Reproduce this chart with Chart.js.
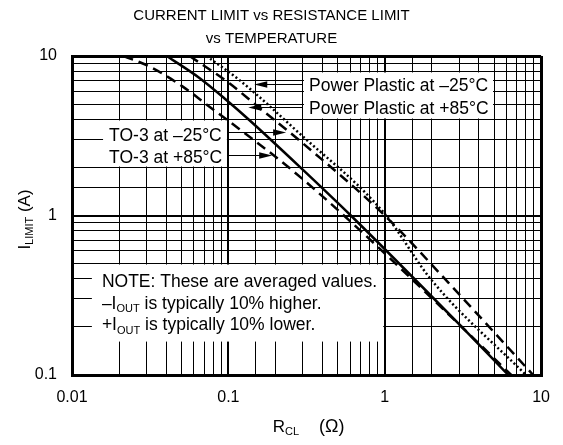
<!DOCTYPE html>
<html>
<head>
<meta charset="utf-8">
<script src="https://cdn.jsdelivr.net/npm/chart.js@4.4.0/dist/chart.umd.min.js"></script>
<style>
  html, body { margin: 0; padding: 0; background: #fff; }
  canvas { display: block; }
</style>
</head>
<body>
<canvas id="chartLimit" width="563" height="445"></canvas>
<script>
const FONT = '"Liberation Sans", Arial, Helvetica, sans-serif';

// values: R_CL in ohms, I_LIMIT in amps
const to3Cold_R = [0.0403, 0.0653, 0.0971, 0.136, 0.283, 0.607, 3.11, 6.17];
const to3Cold_I = [10, 7.28, 5.30, 3.97, 2.04, 1.0, 0.20, 0.10];

const to3Hot_R = [0.0214, 0.0314, 0.0511, 0.0757, 0.0985, 0.245, 0.548, 3.11, 6.44];
const to3Hot_I = [10, 8.57, 6.43, 4.81, 3.97, 1.99, 1.0, 0.20, 0.10];

const ppHot_R = [0.0565, 0.1015, 0.150, 0.283, 1.0, 2.56, 8.9];
const ppHot_I = [10, 6.74, 4.93, 2.97, 1.0, 0.378, 0.1];

const ppCold_R = [0.0724, 0.1175, 0.283, 0.987, 1.99, 8.0];
const ppCold_I = [10, 7.07, 3.29, 1.04, 0.394, 0.1];

const xLabels = [0.01, 0.1, 1, 10];
const yLabels = [0.1, 1, 10];
const titleLines = ['CURRENT LIMIT vs RESISTANCE LIMIT', 'vs TEMPERATURE'];

const toPoints = (xs, ys) => xs.map((x, i) => ({ x: x, y: ys[i] }));
const isDecade = v => Math.abs(Math.log10(v) - Math.round(Math.log10(v))) < 1e-9;

function gridWidth(v, lo, hi) {
  if (Math.abs(v - lo) < 1e-12 || Math.abs(v - hi) < 1e-9) return 3;
  return isDecade(v) ? 2 : 1;
}

// white label boxes (data coords), they hide the grid under them
const boxes = [
  { x0: 0.3, x1: 5, y0: 4, y1: 8, inset: [1, 1, 1, 1],
    left: 6, lines: [[['Power Plastic at \u201325\u00B0C']], [['Power Plastic at +85\u00B0C']]], top: 20, step: 22.5 },
  { x0: 0.0158, x1: 0.1, y0: 2, y1: 4, inset: [0, 1.5, 1, 1],
    left: 6, lines: [[['TO-3 at \u201325\u00B0C']], [['TO-3 at +85\u00B0C']]], top: 22, step: 21.7 },
  { x0: 0.0134, x1: 1, y0: 0.162, y1: 0.5, inset: [0, 1.5, 1, 0],
    left: 10, top: 23.5, step: 21.5,
    lines: [
      [['NOTE: These are averaged values.']],
      [['\u2013I'], ['OUT', true], [' is typically 10% higher.']],
      [['+I'], ['OUT', true], [' is typically 10% lower.']]
    ] }
];

// arrows: tip in data coords, tail on the box edge
const arrows = [
  { box: 0, side: 'left', x: 0.1464, y: 6.72 },
  { box: 0, side: 'left', x: 0.134, y: 4.79 },
  { box: 1, side: 'right', x: 0.234, y: 3.34 },
  { box: 1, side: 'right', x: 0.1907, y: 2.39 }
];

// parts: [text, isSubscript, optional size]
function drawRich(ctx, parts, x, y, size, align) {
  const subSize = Math.round(size * 0.62);
  const fontOf = p => (p[2] || (p[1] ? subSize : size)) + 'px ' + FONT;
  const widths = parts.map(p => {
    ctx.font = fontOf(p);
    return ctx.measureText(p[0]).width;
  });
  const total = widths.reduce((a, b) => a + b, 0);
  let cx = align === 'center' ? x - total / 2 : x;
  parts.forEach((p, i) => {
    ctx.font = fontOf(p);
    ctx.fillText(p[0], cx, p[1] ? y + size * 0.2 : y);
    cx += widths[i];
  });
}

const notes = {
  id: 'notes',
  beforeDatasetsDraw(chart) {
    const { ctx, scales: { x, y } } = chart;
    ctx.save();
    ctx.fillStyle = '#fff';
    boxes.forEach(b => {
      const l = x.getPixelForValue(b.x0) + b.inset[0];
      const r = x.getPixelForValue(b.x1) - b.inset[1];
      const t = y.getPixelForValue(b.y1) + b.inset[2];
      const btm = y.getPixelForValue(b.y0) - b.inset[3];
      ctx.fillRect(l, t, r - l, btm - t);
    });
    ctx.restore();
  },
  afterDatasetsDraw(chart) {
    const { ctx, scales: { x, y } } = chart;
    ctx.save();
    ctx.fillStyle = '#000';
    ctx.strokeStyle = '#000';
    ctx.textBaseline = 'alphabetic';
    boxes.forEach(b => {
      const l = x.getPixelForValue(b.x0);
      const t = y.getPixelForValue(b.y1);
      b.lines.forEach((parts, i) => {
        drawRich(ctx, parts, l + b.left, t + b.top + i * b.step, 17.5, 'left');
      });
    });
    arrows.forEach(a => {
      const b = boxes[a.box];
      const tail = x.getPixelForValue(a.side === 'left' ? b.x0 : b.x1);
      const tip = x.getPixelForValue(a.x);
      const py = Math.round(y.getPixelForValue(a.y)) + 0.5;
      const dir = tip > tail ? 1 : -1;
      ctx.lineWidth = 1.2;
      ctx.beginPath();
      ctx.moveTo(tail, py);
      ctx.lineTo(tip - dir * 10, py);
      ctx.stroke();
      ctx.beginPath();
      ctx.moveTo(tip, py);
      ctx.lineTo(tip - dir * 13, py - 3.2);
      ctx.lineTo(tip - dir * 13, py + 3.2);
      ctx.closePath();
      ctx.fill();
    });
    ctx.restore();
  },
  afterDraw(chart) {
    const { ctx, chartArea: ca } = chart;
    ctx.save();
    ctx.fillStyle = '#000';
    ctx.textBaseline = 'alphabetic';
    // x axis title
    drawRich(ctx, [['R'], ['CL', true, 11], ['    (\u03A9)', false, 18]], (ca.left + ca.right) / 2 + 2, 432, 17, 'center');
    // y axis title, rotated
    ctx.translate(30, (ca.top + ca.bottom) / 2 + 4);
    ctx.rotate(-Math.PI / 2);
    drawRich(ctx, [['I'], ['LIMIT', true], [' (A)']], 0, 0, 17, 'center');
    ctx.restore();
  }
};

const ctx = document.getElementById('chartLimit').getContext('2d');
const chartLimit = new Chart(ctx, {
  type: 'scatter',
  data: {
    datasets: [
      { data: toPoints(to3Cold_R, to3Cold_I), borderColor: '#000', borderWidth: 2.5 },
      { data: toPoints(to3Hot_R, to3Hot_I), borderColor: '#000', borderWidth: 2.5, borderDash: [10, 6] },
      { data: toPoints(ppHot_R, ppHot_I), borderColor: '#000', borderWidth: 2.5, borderDash: [10, 6] },
      { data: toPoints(ppCold_R, ppCold_I), borderColor: '#000', borderWidth: 2.5, borderDash: [2, 2.5] }
    ]
  },
  options: {
    responsive: false,
    animation: false,
    devicePixelRatio: 1,
    showLine: true,
    elements: {
      point: { radius: 0 },
      line: { cubicInterpolationMode: 'monotone', fill: false }
    },
    layout: { padding: { left: 0, right: 20, top: 0, bottom: 0 } },
    plugins: {
      legend: { display: false },
      tooltip: { enabled: false },
      title: {
        display: true,
        text: titleLines,
        color: '#000',
        font: { family: FONT, size: 15, weight: 'normal', lineHeight: 23 / 15 },
        padding: { top: 4, bottom: 6 }
      }
    },
    scales: {
      x: {
        type: 'logarithmic',
        min: 0.01,
        max: 10,
        afterFit: s => { s.height = 70; },
        ticks: {
          autoSkip: false,
          maxRotation: 0,
          padding: 13,
          color: '#000',
          font: { family: FONT, size: 16 },
          callback: v => (xLabels.some(t => Math.abs(t - v) < 1e-9) ? String(v) : '')
        },
        grid: { color: '#000', drawTicks: false, lineWidth: c => gridWidth(c.tick.value, 0.01, 10) },
        border: { display: true, color: '#000', width: 3 }
      },
      y: {
        type: 'logarithmic',
        min: 0.1,
        max: 10,
        afterFit: s => { s.width = 72; },
        ticks: {
          autoSkip: false,
          padding: 15,
          color: '#000',
          font: { family: FONT, size: 16 },
          callback: v => (yLabels.some(t => Math.abs(t - v) < 1e-9) ? String(v) : '')
        },
        grid: { color: '#000', drawTicks: false, lineWidth: c => gridWidth(c.tick.value, 0.1, 10) },
        border: { display: true, color: '#000', width: 3 }
      }
    }
  },
  plugins: [notes]
});
</script>
</body>
</html>
